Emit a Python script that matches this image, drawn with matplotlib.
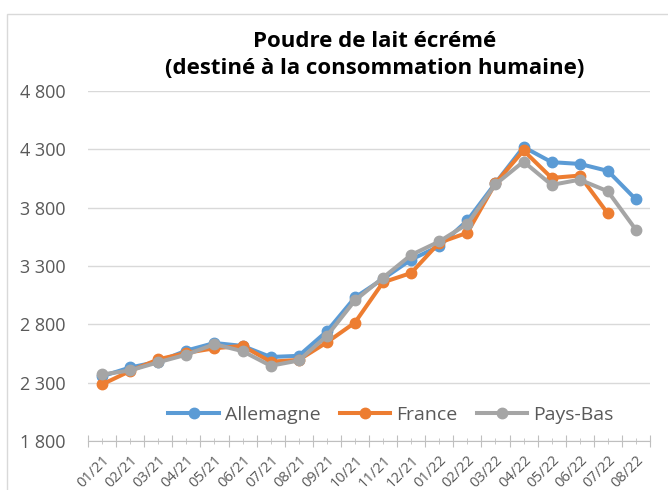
import matplotlib.pyplot as plt
from matplotlib.patches import Rectangle
from matplotlib.ticker import FixedLocator, FuncFormatter

months = ['01/21', '02/21', '03/21', '04/21', '05/21', '06/21', '07/21', '08/21', '09/21', '10/21',
          '11/21', '12/21', '01/22', '02/22', '03/22', '04/22', '05/22', '06/22', '07/22', '08/22']
allemagne = [2355, 2430, 2480, 2575, 2640, 2615, 2520, 2530, 2740, 3030,
             3190, 3355, 3470, 3690, 4010, 4320, 4190, 4175, 4115, 3870]
france = [2285, 2400, 2500, 2555, 2595, 2615, 2480, 2495, 2645, 2815,
          3160, 3240, 3500, 3585, 4010, 4290, 4055, 4075, 3750]
pays_bas = [2370, 2405, 2475, 2540, 2630, 2570, 2445, 2490, 2700, 3005,
            3200, 3395, 3510, 3660, 4000, 4195, 3995, 4040, 3940, 3610]

plt.rcParams['font.family'] = ['Open Sans', 'DejaVu Sans']

fig = plt.figure(figsize=(6.68, 4.9), dpi=100)
ax = fig.add_axes([88 / 668, 1 - 441 / 490, 562 / 668, 350 / 490])

# chart border (cut off on right/bottom like the screenshot)
fig.patches.append(Rectangle((7 / 668, -0.1), 1.2, 1 - 14 / 490 + 0.1, transform=fig.transFigure,
                             fill=False, edgecolor='#D9D9D9', linewidth=1))

x = list(range(len(months)))
ax.plot(x, allemagne, '-o', color='#5B9BD5', lw=2.9, ms=7.5, label='Allemagne', zorder=3)
ax.plot(x[:len(france)], france, '-o', color='#ED7D31', lw=2.9, ms=7.5, label='France', zorder=3)
ax.plot(x, pays_bas, '-o', color='#A5A5A5', lw=2.9, ms=7.5, label='Pays-Bas', zorder=3)

ax.set_ylim(1800, 4800)
ax.set_xlim(-0.5, len(months) - 0.5)
ax.set_yticks([1800, 2300, 2800, 3300, 3800, 4300, 4800])
ax.yaxis.set_major_formatter(FuncFormatter(lambda v, p: f'{int(v):,}'.replace(',', ' ')))
ax.grid(axis='y', color='#D9D9D9', lw=1)
ax.set_axisbelow(True)
for s in ['top', 'right', 'left']:
    ax.spines[s].set_visible(False)
ax.spines['bottom'].set_color('#BFBFBF')
ax.tick_params(axis='y', length=0, labelsize=13, labelcolor='#595959', pad=16)

ax.xaxis.set_major_locator(FixedLocator([i - 0.5 for i in range(len(months) + 1)]))
ax.xaxis.set_minor_locator(FixedLocator(x))
ax.set_xticklabels([''] * (len(months) + 1))
ax.set_xticklabels(months, minor=True, rotation=45, ha='right', rotation_mode='anchor')
ax.tick_params(axis='x', which='major', direction='inout', length=9, color='#BFBFBF')
ax.tick_params(axis='x', which='minor', direction='inout', length=5, color='#BFBFBF',
               labelsize=10.5, labelcolor='#595959', pad=6)

ax.legend(loc='center', bbox_to_anchor=(0.539, 0.075), ncol=3, frameon=False, fontsize=14,
          handlelength=2.6, columnspacing=1.0, handletextpad=0.3, labelcolor='#595959')

fig.text(375 / 668, 1 - 55 / 490, 'Poudre de lait écrémé\n(destiné à la consommation humaine)',
         ha='center', va='center', fontsize=16, fontweight='bold', linespacing=1.35)

fig.savefig('out.png', dpi=100)
